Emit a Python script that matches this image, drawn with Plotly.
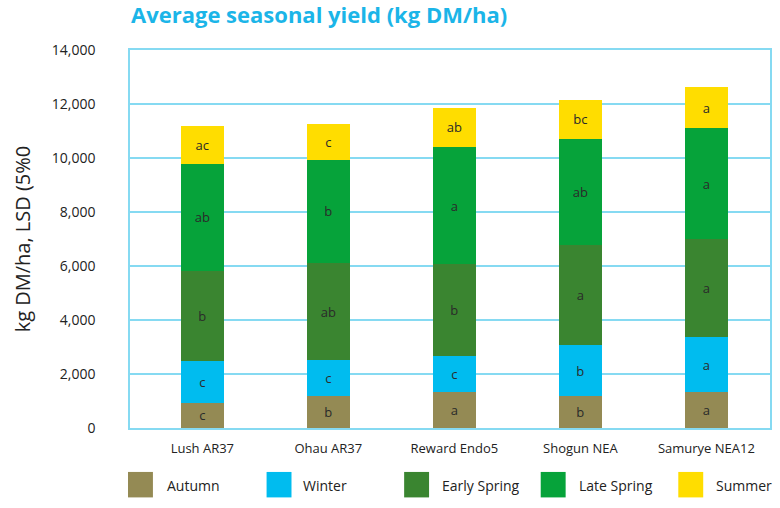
import plotly.graph_objects as go

categories = ["Lush AR37", "Ohau AR37", "Reward Endo5", "Shogun NEA", "Samurye NEA12"]
seasons = ["Autumn", "Winter", "Early Spring", "Late Spring", "Summer"]
autumn = [930, 1180, 1340, 1180, 1340]
winter = [1540, 1330, 1340, 1890, 2020]
early_spring = [3350, 3600, 3390, 3700, 3640]
late_spring = [3960, 3820, 4340, 3940, 4100]
summer = [1400, 1340, 1440, 1440, 1540]
autumn_lsd = ["c", "b", "a", "b", "a"]
winter_lsd = ["c", "c", "c", "b", "a"]
early_spring_lsd = ["b", "ab", "b", "a", "a"]
late_spring_lsd = ["ab", "b", "a", "ab", "a"]
summer_lsd = ["ac", "c", "ab", "bc", "a"]
y_ticks = [0, 2000, 4000, 6000, 8000, 10000, 12000, 14000]

series_values = [autumn, winter, early_spring, late_spring, summer]
series_text = [autumn_lsd, winter_lsd, early_spring_lsd, late_spring_lsd, summer_lsd]
colors = ["#948A54", "#00BCEF", "#3A8530", "#06A33A", "#FFDD00"]

FONT = "Open Sans"
W, H = 780, 508
L, R, T, B = 130, 8, 50, 79.5
PW, PH = W - L - R, H - T - B

fig = go.Figure()
for name, vals, txt, col in zip(seasons, series_values, series_text, colors):
    fig.add_trace(go.Bar(
        x=categories, y=vals, name=name, text=txt,
        marker=dict(color=col, line=dict(width=0)),
        textposition="inside", insidetextanchor="middle", textangle=0,
        constraintext="none",
        textfont=dict(family=FONT, size=13, color="#2a2a2a"),
        width=0.34, showlegend=False,
    ))

grid = "#86DAF2"
fig.update_layout(
    barmode="stack",
    width=W, height=H,
    margin=dict(l=L, r=R, t=T, b=B),
    plot_bgcolor="white", paper_bgcolor="white",
    font=dict(family=FONT, color="#222222"),
    uniformtext=dict(minsize=13, mode="show"),
    title=dict(text="<b>Average seasonal yield (kg DM/ha)</b>",
               font=dict(family=FONT, size=22, color="#1BB5E8"),
               x=131 / W, xanchor="left", xref="container",
               y=1 - 15 / H, yanchor="middle", yref="container"),
    xaxis=dict(range=[-0.574, 4.505], showline=True, mirror=True,
               linecolor=grid, linewidth=1.5, showgrid=False,
               tickfont=dict(family=FONT, size=13, color="#222222"),
               ticks="", ticklabelstandoff=8),
    yaxis=dict(range=[0, 14000], tickvals=y_ticks, tickformat=",",
               showline=True, mirror=True, linecolor=grid, linewidth=1.5,
               showgrid=True, gridcolor=grid, gridwidth=1.5, zeroline=False,
               tickfont=dict(family=FONT, size=14, color="#222222"),
               ticks="", ticklabelstandoff=30),
)

fig.add_annotation(text="kg DM/ha, LSD (5%0", textangle=-90,
                   xref="paper", yref="paper",
                   x=(22 - L) / PW, y=0.5, xanchor="center", yanchor="middle",
                   showarrow=False, font=dict(family=FONT, size=20, color="#222222"))

def px_x(x):
    return (x - L) / PW

def px_y(y):
    return (H - B - y) / PH

swatch_x = [128, 267, 405, 542, 680]
text_x = [165, 302, 441, 578, 716]
for name, col, sx, tx in zip(seasons, colors, swatch_x, text_x):
    fig.add_shape(type="rect", xref="paper", yref="paper",
                  x0=px_x(sx), x1=px_x(sx + 25), y0=px_y(498), y1=px_y(472.5),
                  fillcolor=col, line=dict(width=0))
    fig.add_annotation(text=name, xref="paper", yref="paper",
                       x=px_x(tx), y=px_y(486), xanchor="left", yanchor="middle",
                       showarrow=False, font=dict(family=FONT, size=14, color="#222222"))

fig.write_html("out.html")
